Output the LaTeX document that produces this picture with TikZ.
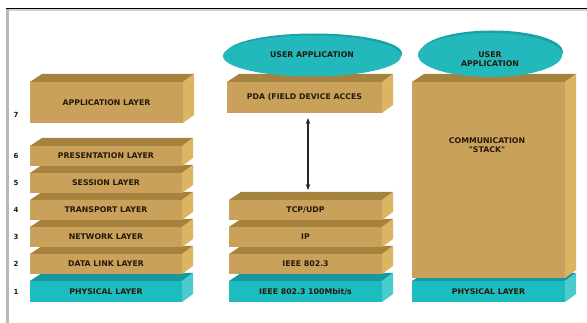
\documentclass[tikz,border=0pt]{standalone}
\usepackage{fontspec}
\newfontfamily\lblfont{DejaVu Sans}
\usetikzlibrary{arrows.meta}
\definecolor{tanfront}{HTML}{C9A15A}
\definecolor{tantop}{HTML}{A6823F}
\definecolor{tanside}{HTML}{DDB461}
\definecolor{cyfront}{HTML}{1CBCC0}
\definecolor{cytop}{HTML}{17989C}
\definecolor{cyside}{HTML}{4ACBCC}
\definecolor{ellmain}{HTML}{22B8BC}
\definecolor{ellrim}{HTML}{18A2A6}
\definecolor{txt}{HTML}{24190B}
\newcommand\lbl{\lblfont\bfseries\fontsize{7.8}{9}\selectfont}
\tikzset{
  face/.style={inner sep=0pt, outer sep=0pt, font=\lbl, text=txt},
  lbltext/.style={inner sep=0pt, font=\lbl, text=txt, align=center},
  numlbl/.style={inner sep=0pt, font=\lblfont\bfseries\fontsize{7}{8}\selectfont, text=txt},
  frameline/.style={draw=black, line width=1.6pt},
  dblarrow/.style={line width=1.3pt, draw=black!85, {Stealth[length=6pt,width=4.5pt]}-{Stealth[length=6pt,width=4.5pt]}},
}
% #1 name, #2 x left, #3 x right, #4 y top, #5 y bottom, #6 colour prefix, #7 text
\newcommand\mkslab[7]{%
  \fill[#6top] (#2,#4) -- ({#2+12},{#4-8}) -- ({#3+11},{#4-8}) -- (#3,#4) -- cycle;
  \fill[#6side] (#3,#4) -- ({#3+11},{#4-8}) -- ({#3+11},{#5-8}) -- (#3,#5) -- cycle;
  \node[face, fill=#6front, minimum width={(#3-#2)*1pt}, minimum height={(#5-#4)*1pt}]
    (#1) at ({(#2+#3)/2},{(#4+#5)/2}) {#7};
}
\begin{document}
\begin{tikzpicture}[x=1pt,y=-1pt]
\useasboundingbox (0,0) rectangle (587,323);
\fill[white] (0,0) rectangle (587,323);
% frame
\fill[gray!55] (6,9) rectangle (9,323);
\fill[gray!35] (9,9.5) rectangle (587,11);
\draw[frameline] (6,8.6) -- (587,8.6);

% left stack
\mkslab{app}{30}{183}{82}{123}{tan}{APPLICATION LAYER}
\mkslab{phys}{30}{182}{281}{302}{cy}{PHYSICAL LAYER}
\mkslab{dlink}{30}{182}{254}{274}{tan}{DATA LINK LAYER}
\mkslab{net}{30}{182}{227}{247}{tan}{NETWORK LAYER}
\mkslab{trans}{30}{182}{200}{220}{tan}{TRANSPORT LAYER}
\mkslab{sess}{30}{182}{173}{193}{tan}{SESSION LAYER}
\mkslab{pres}{30}{182}{146}{166}{tan}{PRESENTATION LAYER}

\node[numlbl] (n7) at (16,115) {7};
\node[numlbl] (n6) at (16,156) {6};
\node[numlbl] (n5) at (16,183) {5};
\node[numlbl] (n4) at (16,210) {4};
\node[numlbl] (n3) at (16,237) {3};
\node[numlbl] (n2) at (16,264) {2};
\node[numlbl] (n1) at (16,292) {1};

% middle stack
\mkslab{pda}{227}{382}{82}{113}{tan}{PDA (FIELD DEVICE ACCES}
\mkslab{ieeephy}{229}{382}{281}{302}{cy}{IEEE 802.3 100Mbit/s}
\mkslab{ieee}{229}{382}{254}{274}{tan}{IEEE 802.3}
\mkslab{ip}{229}{382}{227}{247}{tan}{IP}
\mkslab{tcp}{229}{382}{200}{220}{tan}{TCP/UDP}

\fill[ellrim] (314,53.5) ellipse [x radius=88pt, y radius=20pt];
\fill[ellmain] (312,56) ellipse [x radius=89pt, y radius=20.5pt];
\node[lbltext] (ua1) at (312,55) {USER APPLICATION};

\coordinate (ax) at (308,0);
\path (pda.south -| ax) coordinate (atop);
\path (tcp.north -| ax) coordinate (abot);
\draw[dblarrow] ([yshift=-5pt]atop) -- ([yshift=10pt]abot);

% right stack
\mkslab{rphys}{412}{565}{281}{302}{cy}{PHYSICAL LAYER}
\mkslab{stack}{412}{565}{82}{278}{tan}{}
\node[lbltext] (comm) at (487,145) {COMMUNICATION\\"STACK"};

\fill[ellrim] (492,52) ellipse [x radius=71pt, y radius=21.5pt];
\fill[ellmain] (490,55) ellipse [x radius=72pt, y radius=22pt];
\node[lbltext] (ua2) at (490,59) {USER\\APPLICATION};
\end{tikzpicture}
\end{document}
